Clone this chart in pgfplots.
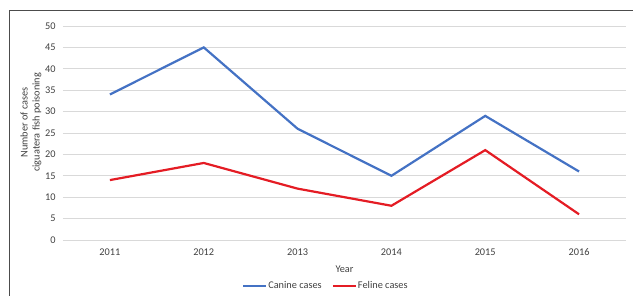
\documentclass[border=0pt]{standalone}
\usepackage{fontspec}
\setmainfont{Carlito}
\usepackage{pgfplots}
\pgfplotsset{compat=1.18}
\definecolor{canine}{RGB}{68,114,196}
\definecolor{feline}{RGB}{228,28,36}
\definecolor{txt}{RGB}{64,64,64}
\definecolor{gridc}{RGB}{217,217,217}
\begin{document}
\begin{tikzpicture}
\useasboundingbox (0,0) rectangle (633bp,296bp);
\draw[black!70, line width=1bp] (9bp,0) -- (9bp,285bp) -- (633bp,285bp);
\begin{axis}[
  at={(63bp,56bp)}, anchor=south west,
  scale only axis, width=563bp, height=214bp,
  xmin=2010.5, xmax=2016.5, ymin=0, ymax=50,
  xtick={2011,...,2016}, ytick={0,5,...,50},
  xticklabels={2011,2012,2013,2014,2015,2016},
  axis line style={draw=none},
  major tick length=0pt,
  xmajorgrids=false, ymajorgrids=true, grid style={draw=gridc, line width=0.8bp},
  /pgf/number format/assume math mode=true,
  font=\fontsize{10.3bp}{12bp}\selectfont,
  tick label style={text=txt},
  yticklabel style={xshift=-4bp},
  xticklabel style={yshift=-5bp},
  xlabel={Year},
  xlabel style={at={(axis description cs:0.5,-0.1355)}, anchor=center, text=txt},
  ylabel={Number of cases\\ciguatera fish poisoning},
  ylabel style={at={(axis description cs:-0.057,0.55)}, anchor=center, align=center, text=txt},
  legend columns=2,
  legend style={at={(axis description cs:0.466,-0.215)}, anchor=center, draw=none, fill=none,
    /tikz/every even column/.append style={column sep=9bp}, font=\fontsize{10.3bp}{12bp}\selectfont, text=txt,
    nodes={inner sep=1bp}},
  legend image code/.code={\draw[#1] (0bp,0bp) -- (23bp,0bp);},
]
\addplot[canine, line width=2.2bp] coordinates {(2011,34) (2012,45) (2013,26) (2014,15) (2015,29) (2016,16)};
\addlegendentry{Canine cases}
\addplot[feline, line width=2.2bp] coordinates {(2011,14) (2012,18) (2013,12) (2014,8) (2015,21) (2016,6)};
\addlegendentry{Feline cases}
\end{axis}
\end{tikzpicture}
\end{document}
